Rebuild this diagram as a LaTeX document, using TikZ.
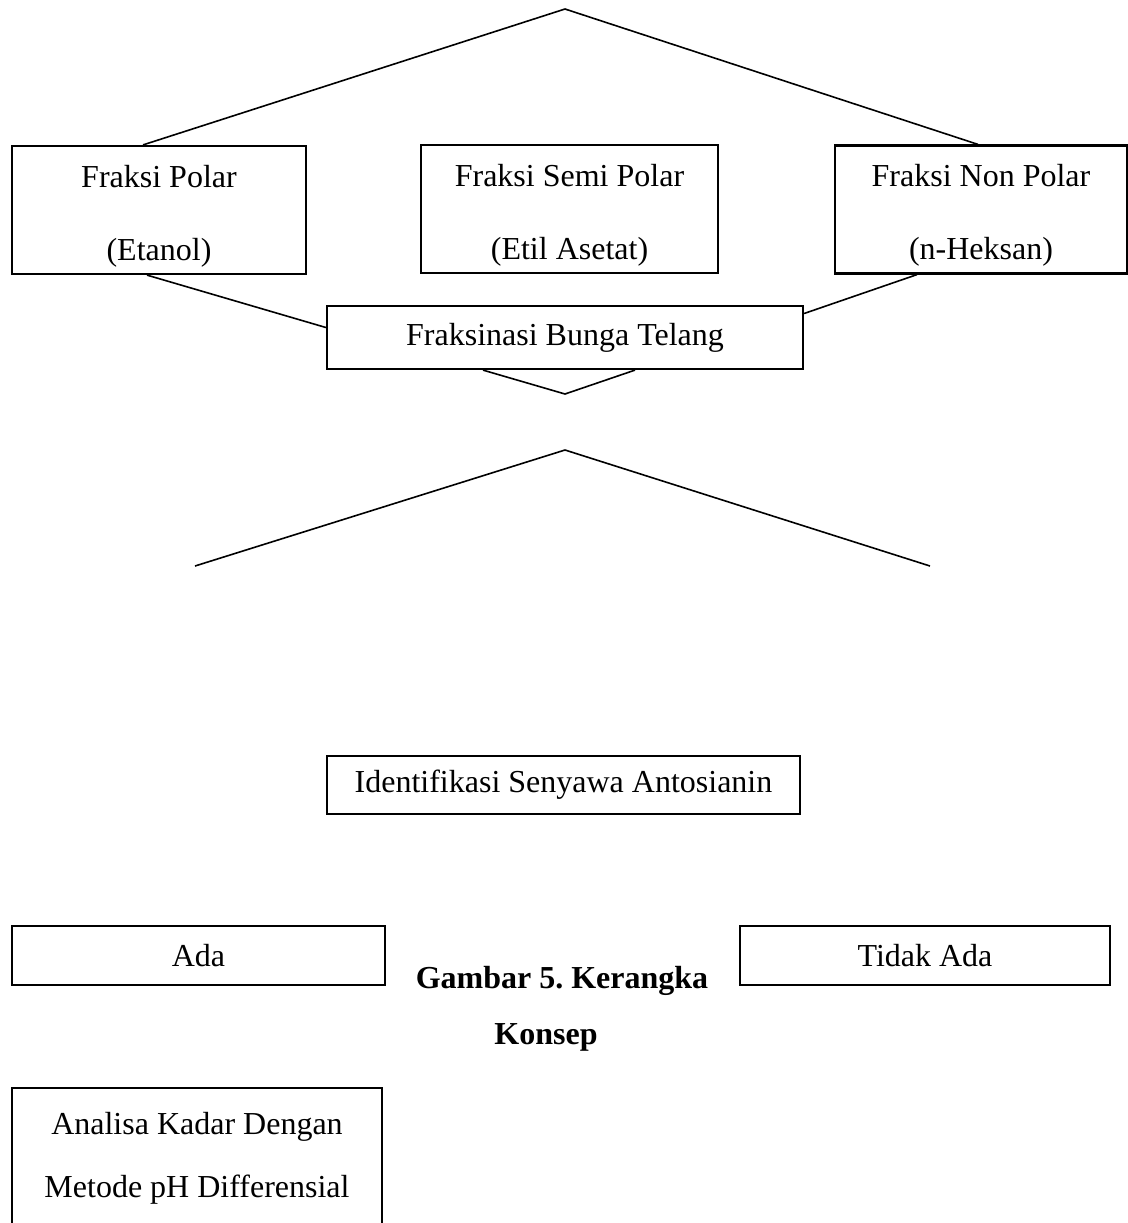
\documentclass[tikz,border=0pt]{standalone}
\usepackage{fontspec}
\setmainfont{Liberation Serif}
\usetikzlibrary{positioning, calc}
\newcommand{\dropln}{\rule{0pt}{17pt}}

\begin{document}
\begin{tikzpicture}[x=0.5pt, y=-0.5pt, line join=miter,
       bx/.style={draw, line width=1.1pt, align=center, inner sep=0pt,
                  font=\fontsize{16}{36.5}\selectfont},
       lnk/.style={line width=0.8pt},
       lbl/.style={font=\fontsize{16}{19}\selectfont\bfseries, inner sep=0pt}]
     \path[use as bounding box, clip] (0,0) rectangle (1128,1223);
     % fraksi
     \node[bx, minimum width=147pt, minimum height=64pt] (polar) at (159,210) {\dropln Fraksi Polar\\(Etanol)};
     \node[bx, minimum width=148.5pt, minimum height=64pt] (semi) at (569.5,209) {\dropln Fraksi Semi Polar\\(Etil Asetat)};
     \node[bx, minimum width=146pt, minimum height=64pt] (nonpolar) at (981,209.5) {\dropln Fraksi Non Polar\\(n-Heksan)};
     \node[bx, minimum width=238pt, minimum height=31.5pt] (fraks) at (565,337.5) {Fraksinasi Bunga Telang};
     \coordinate (top) at (565,9);
     \coordinate (tip) at (565,394);
     \draw[lnk] ([xshift=-8pt]polar.north) -- (top) -- ([xshift=-1.5pt]nonpolar.north);
     \draw[lnk] ([xshift=-6pt]polar.south) -- ([yshift=5pt]fraks.west);
     \draw[lnk] ([yshift=12pt]fraks.east) -- ([xshift=-32pt]nonpolar.south);
     \draw[lnk] ([xshift=-41pt]fraks.south) -- (tip) -- ([xshift=35pt]fraks.south);
     % identifikasi
     \coordinate (top2) at (565,450);
     \coordinate (endl) at (195,566);
     \coordinate (endr) at (930,566);
     \draw[lnk] (endl) -- (top2) -- (endr);
     \node[bx, minimum width=236.5pt, minimum height=29pt] (ident) at (563.5,785) {Identifikasi Senyawa Antosianin};
     \node[bx, minimum width=186.5pt, minimum height=29.5pt] (ada) at (198.5,955.5) {Ada};
     \node[bx, minimum width=185pt, minimum height=29.5pt] (tidak) at (925,955.5) {Tidak Ada};
     \node[lbl] (cap1) at (562,981) {Gambar 5.\ Kerangka};
     \node[lbl] (cap2) at (546,1037) {Konsep};
     \node[bx, minimum width=185pt, minimum height=70.5pt, font=\fontsize{16}{31.5}\selectfont]
        (analisa) at (197,1158.5) {Analisa Kadar Dengan\\Metode pH Differensial};
   \end{tikzpicture}
\end{document}
